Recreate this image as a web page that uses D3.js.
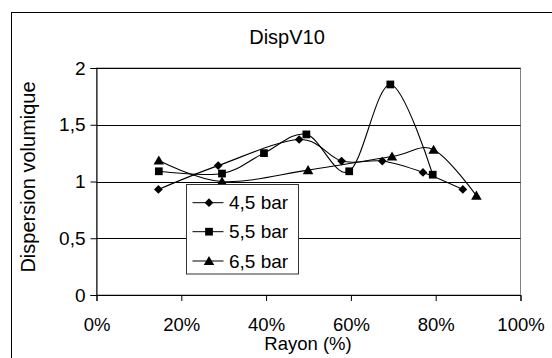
<!DOCTYPE html>
<html><head><meta charset="utf-8">
<script src="https://cdn.jsdelivr.net/npm/d3@7"></script>
<style>body{margin:0;background:#fff}svg{display:block}text{font-family:"Liberation Sans",Arial,sans-serif;fill:#000}</style>
</head><body>
<script>
const title = "DispV10";
const xTitle = "Rayon (%)";
const yTitle = "Dispersion volumique";
const seriesNames = ["4,5 bar", "5,5 bar", "6,5 bar"];
const x45 = [14.6, 28.7, 47.8, 57.8, 67.4, 77.0, 86.4];
const y45 = [0.93, 1.14, 1.37, 1.18, 1.18, 1.08, 0.93];
const x55 = [14.7, 29.6, 39.5, 49.5, 59.6, 69.3, 79.3];
const y55 = [1.09, 1.07, 1.25, 1.415, 1.09, 1.855, 1.06];
const x65 = [14.7, 29.6, 49.9, 69.7, 79.5, 89.6];
const y65 = [1.185, 1.0, 1.10, 1.22, 1.28, 0.875];
const xTicks = [0, 20, 40, 60, 80, 100];
const yTicks = [0, 0.5, 1, 1.5, 2];

const W = 552, H = 358;
const svg = d3.select("body").append("svg").attr("width", W).attr("height", H);
svg.append("rect").attr("x", 11.5).attr("y", 12.5).attr("width", 560).attr("height", 360)
  .attr("fill", "#fff").attr("stroke", "#000").attr("stroke-width", 1);

const x = d3.scaleLinear().domain([0, 100]).range([96.5, 520.5]);
const y = d3.scaleLinear().domain([0, 2]).range([295, 68]);
const fs = 19, fsx = 18.5;

// plot border (top/right gray)
svg.append("rect").attr("x", x(0)).attr("y", y(2)).attr("width", x(100) - x(0)).attr("height", y(0) - y(2))
  .attr("fill", "none").attr("stroke", "#808080");

// gridlines
svg.append("g").selectAll("line").data(yTicks.filter(d => d > 0)).join("line")
  .attr("x1", x(0)).attr("x2", x(100)).attr("y1", d => Math.round(y(d)) + 0.5).attr("y2", d => Math.round(y(d)) + 0.5)
  .attr("stroke", "#000").attr("stroke-width", 1);

// axes
const yAxis = d3.axisLeft(y).tickValues(yTicks).tickSize(6).tickPadding(5)
  .tickFormat(d => String(d).replace(".", ","));
const gy = svg.append("g").attr("transform", `translate(${x(0)},0)`).call(yAxis);
gy.select(".domain").attr("stroke", "#000");
gy.selectAll("text").style("font-size", fs + "px");

const xAxis = d3.axisBottom(x).tickValues(xTicks).tickSize(6).tickPadding(16.5).tickFormat(d => d + "%");
const gx = svg.append("g").attr("transform", `translate(0,${y(0)})`).call(xAxis);
gx.select(".domain").attr("stroke", "#000");
gx.selectAll("text").style("font-size", fsx + "px");

// titles
svg.append("text").attr("x", 287).attr("y", 44).attr("text-anchor", "middle").style("font-size", "20px").text(title);
svg.append("text").attr("x", 308).attr("y", 350).attr("text-anchor", "middle").style("font-size", fsx + "px").text(xTitle);
svg.append("text").attr("transform", "translate(35,177) rotate(-90)").attr("text-anchor", "middle").style("font-size", "20px").text(yTitle);

// series
const diamond = {draw(ctx, size) { const r = Math.sqrt(size) / 2 * Math.SQRT2; ctx.moveTo(0, -r); ctx.lineTo(r, 0); ctx.lineTo(0, r); ctx.lineTo(-r, 0); ctx.closePath(); }};
const series = [
  {name: seriesNames[0], xs: x45, ys: y45, sym: diamond, size: 38, dy: 0},
  {name: seriesNames[1], xs: x55, ys: y55, sym: d3.symbolSquare, size: 60, dy: 0},
  {name: seriesNames[2], xs: x65, ys: y65, sym: d3.symbolTriangle, size: 48, dy: 1}
];
const line = d3.line().x(d => x(d[0])).y(d => y(d[1])).curve(d3.curveCardinal.tension(0));
series.forEach(s => {
  const pts = s.xs.map((v, i) => [v, s.ys[i]]);
  svg.append("path").attr("d", line(pts)).attr("fill", "none").attr("stroke", "#000").attr("stroke-width", 1.1);
  svg.append("g").selectAll("path").data(pts).join("path")
    .attr("transform", d => `translate(${x(d[0])},${y(d[1]) + s.dy})`)
    .attr("d", d3.symbol().type(s.sym).size(s.size)).attr("fill", "#000");
});

// legend
const lg = svg.append("g");
lg.append("rect").attr("x", 186.5).attr("y", 184.5).attr("width", 112).attr("height", 89.5)
  .attr("fill", "#fff").attr("stroke", "#333");
const rowsY = [202.7, 231.7, 261];
series.forEach((s, i) => {
  lg.append("line").attr("x1", 192.5).attr("x2", 223.5).attr("y1", rowsY[i]).attr("y2", rowsY[i]).attr("stroke", "#000");
  lg.append("path").attr("transform", `translate(209,${rowsY[i] + s.dy})`)
    .attr("d", d3.symbol().type(s.sym).size(s.size)).attr("fill", "#000");
  lg.append("text").attr("x", 229).attr("y", rowsY[i]).attr("dy", "0.35em").style("font-size", fs + "px").text(s.name);
});
</script>
</body></html>
